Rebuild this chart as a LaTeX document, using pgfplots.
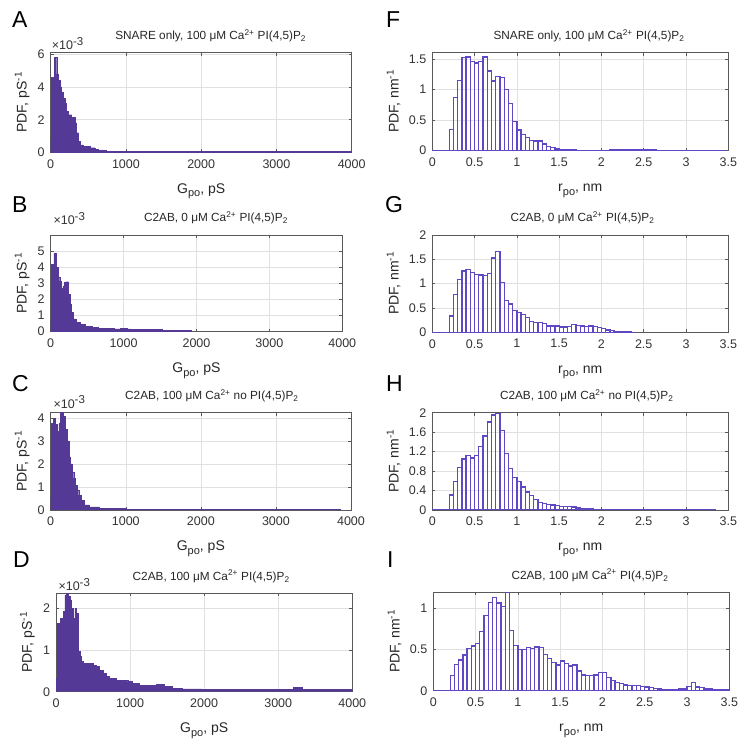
\documentclass[border=0pt]{standalone}
\usepackage{fontspec}
\setmainfont{Liberation Sans}
\usepackage{pgfplots}
\pgfplotsset{compat=1.18}
\definecolor{hfill}{RGB}{84,58,150}
\definecolor{hedge}{RGB}{96,72,196}
\newcommand{\mysub}[1]{\raisebox{-3.5pt}{\fontsize{11}{11}\selectfont #1}}
\newcommand{\mysup}[1]{\raisebox{5pt}{\fontsize{10}{10}\selectfont #1}}
\pgfplotsset{
  panel/.style={scale only axis, anchor=south west,
    axis line style={black!65, line width=0.6pt},
    grid=major, major grid style={black!12, line width=0.5pt},
    tick align=inside, tick style={black!65, line width=0.5pt}, major tick length=3pt,
    tick label style={font=\fontsize{12.5}{12.5}\selectfont, text=black!80},
    xticklabel style={yshift=-3.5pt},
    yticklabel style={xshift=-2.5pt},
    /pgf/number format/assume math mode=true,
    /pgf/number format/1000 sep={},
    label style={font=\fontsize{14}{14}\selectfont, text=black!85},
    xlabel style={at={(rel axis cs:0.5,0)}, anchor=base, yshift=-41pt},
    title style={font=\fontsize{11.8}{12}\selectfont, text=black!85, at={(rel axis cs:0.5,1)}, anchor=base, yshift=7pt},
  },
  gpanel/.style={panel, xmin=0, xmax=4000, xtick={0,1000,2000,3000,4000}, ymin=0,
    xlabel={G\mysub{po}, pS}, ylabel={PDF, pS\mysup{-1}},
    ylabel style={at={(rel axis cs:0,0.5)}, anchor=center, yshift=28.5pt}},
  rpanel/.style={panel, xmin=0, xmax=3.5, xtick={0,0.5,...,3.5}, ymin=0,
    xlabel={r\mysub{po}, nm}, ylabel={PDF, nm\mysup{-1}},
    ylabel style={at={(rel axis cs:0,0.5)}, anchor=center, yshift=38.8pt}},
  gfill/.style={const plot mark left, fill=hfill, draw=hfill, line width=0.4pt},
  rbar/.style={ybar interval, color=hedge, draw=hedge, fill=none, line width=1.3pt},
}
\begin{document}
\begin{tikzpicture}[x=1pt,y=1pt]
\path[use as bounding box] (0pt,0pt) rectangle (750pt,750pt);
% ---------- A ----------
\begin{axis}[gpanel, at={(50.7pt,597.7pt)}, width=301pt, height=99.6pt, ymax=6.1, ytick={0,2,4,6},
  title={SNARE only, 100 μM Ca\textsuperscript{2+} PI(4,5)P\textsubscript{2}}, title style={xshift=9.5pt}]
\addplot[gfill] coordinates {(0,0.65) (13,4.6) (44,5.8) (80,4.8) (102,4.4) (124,4.0) (146,3.7) (168,3.3) (190,3.0) (212,2.5) (234,2.3) (279,2.15) (323,1.8) (345,1.2) (367,0.65) (389,0.45) (434,0.35) (522,0.28) (588,0.18) (633,0.1) (743,0.06) (1000,0.05) (4000,0.05)} \closedcycle;
\end{axis}
% ---------- B ----------
\begin{axis}[gpanel, at={(50.7pt,418.3pt)}, width=291.6pt, height=96.7pt, ymax=6, ytick={0,1,2,3,4,5},
  title={C2AB, 0 μM Ca\textsuperscript{2+} PI(4,5)P\textsubscript{2}}, title style={xshift=19.5pt}]
\addplot[gfill] coordinates {(0,0.62) (13,4.2) (44,4.85) (79,4.0) (102,3.4) (124,3.15) (146,2.7) (168,2.85) (190,3.05) (212,3.1) (243,2.3) (265,1.7) (287,1.2) (309,0.8) (344,0.6) (411,0.45) (477,0.35) (565,0.28) (653,0.22) (874,0.17) (960,0.2) (1050,0.18) (1095,0.16) (1316,0.14) (1536,0.1) (1757,0.07) (1934,0.07)} \closedcycle;
\end{axis}
% ---------- C ----------
\begin{axis}[gpanel, at={(50.7pt,240pt)}, width=300.3pt, height=97.3pt, ymax=4.22, ytick={0,1,2,3,4},
  title={C2AB, 100 μM Ca\textsuperscript{2+} no PI(4,5)P\textsubscript{2}}, title style={xshift=11pt}]
\addplot[gfill] coordinates {(0,0.55) (13,3.75) (35,3.97) (66,3.7) (88,3.4) (110,3.75) (132,4.22) (167,4.05) (197,3.5) (219,3.0) (241,2.3) (263,2.0) (285,1.65) (307,1.37) (329,1.08) (351,0.87) (373,0.65) (408,0.43) (452,0.22) (518,0.14) (649,0.08) (803,0.06) (1000,0.04) (2000,0.03) (3850,0.03)} \closedcycle;
\end{axis}
% ---------- D ----------
\begin{axis}[gpanel, at={(56pt,58.3pt)}, width=296.3pt, height=98.4pt, ymax=2.36, ytick={0,1,2},
  title={C2AB, 100 μM Ca\textsuperscript{2+} PI(4,5)P\textsubscript{2}}, title style={xshift=7pt}]
\addplot[gfill] coordinates {(0,0.32) (18,1.64) (54,1.76) (98,1.92) (120,2.32) (143,2.36) (165,2.28) (187,2.2) (210,2.0) (232,1.76) (254,2.0) (277,1.88) (299,0.96) (321,0.84) (343,0.72) (366,0.68) (500,0.64) (544,0.6) (589,0.52) (633,0.44) (678,0.36) (723,0.32) (812,0.28) (968,0.24) (1035,0.2) (1124,0.16) (1258,0.15) (1347,0.17) (1458,0.12) (1570,0.08) (1704,0.065) (1971,0.055) (2328,0.05) (3150,0.05) (3200,0.1) (3320,0.06) (3400,0.05) (4000,0.04)} \closedcycle;
\end{axis}
% ---------- F ----------
\begin{axis}[rpanel, at={(432.3pt,599.3pt)}, width=296pt, height=98pt, ymax=1.6, ytick={0,0.5,1,1.5},
  title={SNARE only, 100 μM Ca\textsuperscript{2+} PI(4,5)P\textsubscript{2}}, title style={xshift=8.7pt}]
\addplot[rbar] coordinates {(0,0) (0.05,0) (0.1,0) (0.15,0) (0.2,0.35) (0.25,0.87) (0.3,1.15) (0.35,1.52) (0.4,1.53) (0.45,1.46) (0.5,1.43) (0.55,1.46) (0.6,1.53) (0.65,1.30) (0.7,1.14) (0.75,1.21) (0.8,1.19) (0.85,1.00) (0.9,0.77) (0.95,0.48) (1.0,0.34) (1.05,0.26) (1.1,0.22) (1.15,0.17) (1.2,0.16) (1.25,0.16) (1.3,0.11) (1.35,0.065) (1.4,0.05) (1.45,0.03) (1.5,0.02) (1.55,0.015) (1.6,0.01) (1.65,0.01) (1.7,0.008) (1.75,0.006) (1.8,0.006) (1.85,0.006) (1.9,0.006) (1.95,0.006) (2.0,0.008) (2.05,0.008) (2.1,0.01) (2.15,0.012) (2.2,0.014) (2.25,0.015) (2.3,0.016) (2.35,0.016) (2.4,0.015) (2.45,0.015) (2.5,0.014) (2.55,0.012) (2.6,0.01) (2.65,0.008) (2.7,0.007) (2.75,0.006) (2.8,0.006) (2.85,0.005) (2.9,0.005) (2.95,0.005) (3.0,0.004) (3.05,0.004) (3.1,0.004) (3.15,0.003) (3.2,0.003) (3.25,0.003) (3.3,0.003) (3.35,0.003) (3.4,0.002) (3.45,0)};
\end{axis}
% ---------- G ----------
\begin{axis}[rpanel, at={(432.3pt,417.7pt)}, width=296pt, height=97.3pt, ymax=2, ytick={0,0.5,1,1.5,2},
  title={C2AB, 0 μM Ca\textsuperscript{2+} PI(4,5)P\textsubscript{2}}, title style={xshift=2.2pt}]
\addplot[rbar] coordinates {(0,0) (0.05,0) (0.1,0) (0.15,0) (0.2,0.335) (0.25,0.78) (0.3,1.09) (0.35,1.26) (0.4,1.29) (0.45,1.23) (0.5,1.19) (0.55,1.18) (0.6,1.17) (0.65,1.21) (0.7,1.53) (0.75,1.66) (0.8,1.03) (0.85,0.66) (0.9,0.58) (0.95,0.45) (1.0,0.41) (1.05,0.36) (1.1,0.31) (1.15,0.22) (1.2,0.2) (1.25,0.2) (1.3,0.18) (1.35,0.13) (1.4,0.13) (1.45,0.13) (1.5,0.11) (1.55,0.11) (1.6,0.12) (1.65,0.165) (1.7,0.14) (1.75,0.13) (1.8,0.12) (1.85,0.13) (1.9,0.12) (1.95,0.1) (2.0,0.075) (2.05,0.05) (2.1,0.035) (2.15,0.02) (2.2,0.015) (2.25,0.01) (2.3,0.005) (2.35,0.003) (2.4,0)};
\end{axis}
% ---------- H ----------
\begin{axis}[rpanel, at={(432.3pt,240pt)}, width=296pt, height=97.3pt, ymax=2, ytick={0,0.4,0.8,1.2,1.6,2},
  title={C2AB, 100 μM Ca\textsuperscript{2+} no PI(4,5)P\textsubscript{2}}, title style={xshift=6.4pt}]
\addplot[rbar] coordinates {(0,0) (0.05,0) (0.1,0) (0.15,0) (0.2,0.31) (0.25,0.59) (0.3,0.88) (0.35,1.05) (0.4,1.12) (0.45,1.07) (0.5,1.12) (0.55,1.31) (0.6,1.52) (0.65,1.81) (0.7,1.95) (0.75,1.98) (0.8,1.63) (0.85,1.16) (0.9,0.86) (0.95,0.67) (1.0,0.58) (1.05,0.47) (1.1,0.37) (1.15,0.30) (1.2,0.22) (1.25,0.15) (1.3,0.14) (1.35,0.12) (1.4,0.10) (1.45,0.09) (1.5,0.075) (1.55,0.07) (1.6,0.07) (1.65,0.06) (1.7,0.04) (1.75,0.03) (1.8,0.02) (1.85,0.02) (1.9,0.015) (1.95,0.015) (2.0,0.015) (2.05,0.015) (2.1,0.015) (2.15,0.012) (2.2,0.006) (2.25,0.005) (2.3,0.005) (2.35,0.005) (2.4,0.005) (2.45,0.005) (2.5,0.004) (2.55,0.004) (2.6,0.004) (2.65,0.004) (2.7,0.003) (2.75,0.003) (2.8,0.003) (2.85,0.003) (2.9,0.003) (2.95,0.003) (3.0,0.003) (3.05,0.003) (3.1,0.002) (3.15,0.002) (3.2,0.002) (3.25,0.002) (3.3,0.002) (3.35,0)};
\end{axis}
% ---------- I ----------
\begin{axis}[rpanel, at={(433.3pt,59.3pt)}, width=296pt, height=98.4pt, ymax=1.19, ytick={0,0.5,1},
  title={C2AB, 100 μM Ca\textsuperscript{2+} PI(4,5)P\textsubscript{2}}, title style={xshift=8.7pt}]
\addplot[rbar] coordinates {(0,0) (0.05,0) (0.1,0) (0.15,0) (0.2,0.18) (0.25,0.32) (0.3,0.37) (0.35,0.43) (0.4,0.51) (0.45,0.54) (0.5,0.575) (0.55,0.72) (0.6,0.91) (0.65,1.07) (0.7,1.13) (0.75,1.06) (0.8,1.02) (0.85,1.19) (0.9,0.73) (0.95,0.55) (1.0,0.50) (1.05,0.50) (1.1,0.52) (1.15,0.51) (1.2,0.53) (1.25,0.52) (1.3,0.44) (1.35,0.39) (1.4,0.34) (1.45,0.31) (1.5,0.36) (1.55,0.33) (1.6,0.30) (1.65,0.31) (1.7,0.24) (1.75,0.19) (1.8,0.18) (1.85,0.18) (1.9,0.19) (1.95,0.22) (2.0,0.22) (2.05,0.16) (2.1,0.12) (2.15,0.10) (2.2,0.085) (2.25,0.07) (2.3,0.065) (2.35,0.06) (2.4,0.06) (2.45,0.05) (2.5,0.045) (2.55,0.035) (2.6,0.03) (2.65,0.02) (2.7,0.015) (2.75,0.015) (2.8,0.015) (2.85,0.015) (2.9,0.02) (2.95,0.02) (3.0,0.05) (3.05,0.1) (3.1,0.045) (3.15,0.035) (3.2,0.02) (3.25,0.02) (3.3,0.015) (3.35,0.008) (3.4,0.008) (3.45,0.008) (3.5,0)};
\end{axis}
% ---------- x10^-3 ----------
\begin{scope}[every node/.style={anchor=base west, inner sep=0pt, font=\fontsize{12.5}{12.5}\selectfont, text=black!80}]
\node at (51.7pt,700pt) {×10\raisebox{4.5pt}{\fontsize{11.5}{11.5}\selectfont -3}};
\node at (53.3pt,525pt) {×10\raisebox{4.5pt}{\fontsize{11.5}{11.5}\selectfont -3}};
\node at (53.3pt,341.7pt) {×10\raisebox{4.5pt}{\fontsize{11.5}{11.5}\selectfont -3}};
\node at (58.3pt,159pt) {×10\raisebox{4.5pt}{\fontsize{11.5}{11.5}\selectfont -3}};
\end{scope}
% ---------- panel letters ----------
\begin{scope}[every node/.style={anchor=base west, inner sep=0pt, font=\fontsize{23}{23}\selectfont}]
\node at (12pt,722pt) {A};
\node at (12pt,537pt) {B};
\node at (12pt,358pt) {C};
\node at (13pt,182pt) {D};
\node at (386pt,722pt) {F};
\node at (385pt,537pt) {G};
\node at (386pt,358.3pt) {H};
\node at (387pt,182pt) {I};
\end{scope}
\end{tikzpicture}
\end{document}
